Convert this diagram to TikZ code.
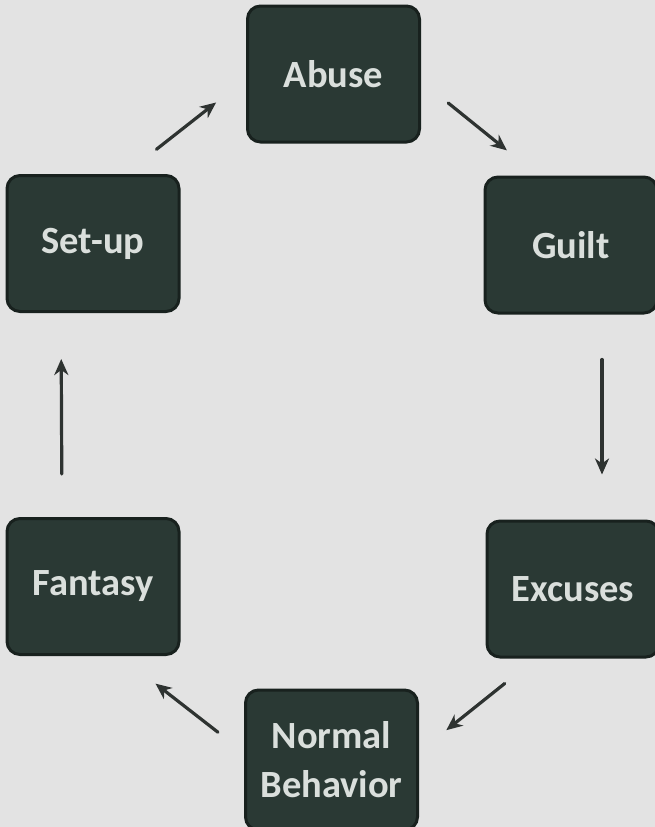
\documentclass[tikz,border=0pt]{standalone}
\usepackage{fontspec}
\setmainfont{Carlito}
\usetikzlibrary{arrows.meta}
\definecolor{bg}{HTML}{E3E3E3}
\definecolor{boxfill}{HTML}{2A3934}
\definecolor{boxedge}{HTML}{18211E}
\definecolor{boxtext}{HTML}{DADFDC}
\definecolor{pen}{HTML}{2E3331}
\begin{document}
\begin{tikzpicture}[x=1pt,y=-1pt,
  stage/.style={draw=boxedge, line width=3pt, fill=boxfill, rounded corners=13pt,
    minimum width=172pt, minimum height=136pt, inner sep=0pt,
    text=boxtext, font=\bfseries\fontsize{38.5}{49}\selectfont, align=center},
  flow/.style={draw=pen, line width=3.2pt, line cap=round,
    -{Stealth[length=16pt,width=14pt,inset=5pt]}}]
\useasboundingbox (0,0) rectangle (655,827);
\clip (0,0) rectangle (655,827);
\fill[bg] (0,0) rectangle (655,827);

\node[stage] (abuse)   at (333.5,74)  {Abuse};
\node[stage] (guilt)   at (571,245)   {Guilt};
\node[stage] (excuses) at (573,589)   {Excuses};
\node[stage, minimum height=140pt] (normal) at (331.5,760) {Normal\\Behavior};
\node[stage] (fantasy) at (93,586.5)  {Fantasy};
\node[stage] (setup)   at (93,243.5)  {Set-up};

\draw[flow, shorten <=40pt, shorten >=38pt] ([xshift=32pt]setup.north) -- ([yshift=-5pt]abuse.west);
\draw[flow, shorten <=35pt, shorten >=40pt] ([yshift=-7pt]abuse.east) -- ([xshift=-33pt]guilt.north);
\draw[flow, shorten <=45pt, shorten >=45pt] ([xshift=31pt]guilt.south) -- ([xshift=29pt]excuses.north);
\draw[flow, shorten <=40pt, shorten >=35pt] ([xshift=-37pt]excuses.south) -- ([yshift=8pt]normal.east);
\draw[flow, shorten <=33pt, shorten >=45pt] ([yshift=7.5pt]normal.west) -- ([xshift=27pt]fantasy.south);
\draw[flow, shorten <=43pt, shorten >=46pt] ([xshift=-31pt]fantasy.north) -- ([xshift=-32pt]setup.south);
\end{tikzpicture}
\end{document}
